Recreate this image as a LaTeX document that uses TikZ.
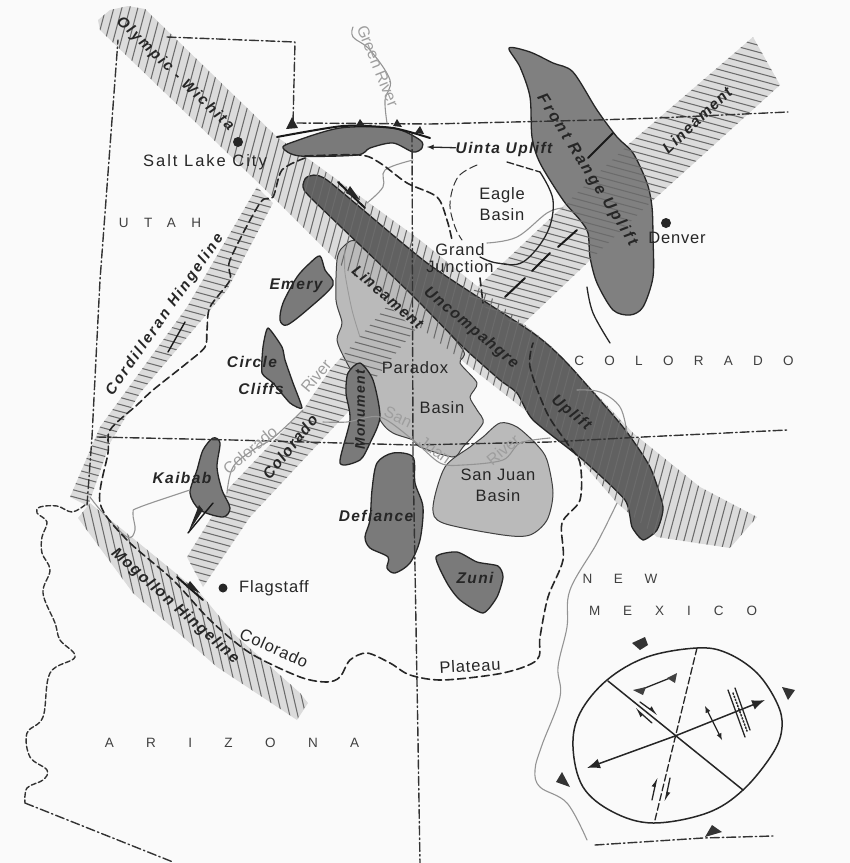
\documentclass[tikz,border=0pt]{standalone}
\usepackage{fontspec}
\setmainfont{Liberation Sans}
\newfontfamily\upfont[LetterSpace=9]{Liberation Sans}
\newfontfamily\upwide[LetterSpace=15]{Liberation Sans}
\newfontfamily\plfont[LetterSpace=5]{Liberation Sans}
\usetikzlibrary{arrows,arrows.meta}

\tikzset{
  bandfill/.style={fill=black!14},
  hatchline/.style={black!58,line width=1.05pt},
  upland/.style={fill=black!52,draw=black!85,line width=1.3pt},
  basin/.style={fill=black!27,draw=black!75,line width=1pt},
  border/.style={black!80,line width=1.4pt,dash pattern=on 9pt off 3pt on 1.5pt off 3pt},
  plateauline/.style={black!85,line width=1.6pt,dash pattern=on 8pt off 4pt},
  thinblack/.style={black!85,line width=1.3pt},
  fault/.style={black!90,line width=2pt},
  river/.style={black!42,line width=1.1pt},
  upname/.style={text=black!85,font=\upfont\bfseries\itshape\fontsize{15.5}{16}\selectfont,inner sep=0pt},
  upnamewide/.style={text=black!85,font=\upwide\bfseries\itshape\fontsize{15}{16}\selectfont,inner sep=0pt},
  placename/.style={text=black!85,font=\plfont\fontsize{16.5}{17}\selectfont,inner sep=0pt,align=center},
  rivername/.style={text=black!38,font=\fontsize{16}{17}\selectfont,inner sep=0pt},
  statename/.style={text=black!75,font=\fontsize{13.5}{14}\selectfont,inner sep=0pt},
  spoint/.style={fill=black!85},
  bigtip/.style={-{Latex[length=13pt,width=10pt]}},
  halftip/.style={-{Latex[left,length=8pt,width=7pt]}}
}

% shapes that get filled and then hatched
\newcommand{\olympicband}{(100,30) -- (98,20) -- (110,10) -- (128,6) -- (145,9) -- (277,137) -- (310,160) -- (420,240) -- (550,345) -- (633,433) -- (700,487) -- (757,517) -- (730,548) -- (657,537) -- (617,503) -- (563,440) -- (343,267) -- (273,197) -- cycle}
\newcommand{\coloradoleft}{(187,557) -- (230,487) -- (303,410) -- (330,370) -- (388,305) -- (415,330) -- (347,413) -- (250,517) -- (203,587) -- cycle}
\newcommand{\coloradoright}{(467,297) -- (630,143) -- (753,37) -- (780,85) -- (650,203) -- (520,327) -- cycle}
\newcommand{\cordband}{(257,187) -- (187,307) -- (100,427) -- (70,497) -- (88,506) -- (110,443) -- (140,393) -- (227,290) -- (273,203) -- cycle}
\newcommand{\mogband}{(78,518) -- (90,503) -- (107,517) -- (200,593) -- (233,633) -- (300,693) -- (308,703) -- (297,720) -- (217,667) -- (133,593) -- cycle}
\newcommand{\steephatch}{\foreach \i in {-100,-92,...,1100} \draw[hatchline] (\i,0) -- (\i-230,863);}
\newcommand{\backhatch}{\foreach \i in {-300,-292,...,800} \draw[hatchline] (\i,0) -- (\i+200,863);}
\newcommand{\flathatch}{\foreach \i in {-300,-293,...,800} \draw[hatchline] (0,\i) -- (850,\i+230);}

\begin{document}
\begin{tikzpicture}[line cap=round,line join=round,x=1pt,y=-1pt]
\useasboundingbox (0,0) rectangle (850,863);
\fill[black!2] (0,0) rectangle (850,863);

%bands
\fill[bandfill] \coloradoleft;
\fill[bandfill] \coloradoright;
\fill[bandfill] \cordband;
\fill[bandfill] \mogband;
\fill[bandfill] \olympicband;
\begin{scope}
  \clip \cordband;
  \flathatch
\end{scope}
\begin{scope}
  \clip \mogband;
  \backhatch
\end{scope}

%basins and uplifts under the hatching
\draw[basin] plot[smooth cycle,tension=.45] coordinates {(343,247) (337,260) (336,300) (342,323) (337,340) (347,363) (380,420) (393,433) (413,440) (420,447) (453,457) (463,447) (483,423) (477,410) (470,397) (477,383) (460,363) (463,350) (420,300) (360,243)};
\draw[basin] plot[smooth cycle,tension=.5] coordinates {(500,423) (483,437) (470,447) (445,467) (433,507) (443,523) (503,535) (530,535) (547,520) (553,493) (547,460) (537,445) (517,427)};
\draw[upland,fill=black!62] plot[smooth cycle,tension=.35] coordinates {(307,177) (327,180) (427,263) (533,333) (567,363) (623,427) (650,467) (663,507) (657,530) (643,540) (632,527) (625,500) (583,460) (533,420) (517,393) (500,380) (463,347) (410,293) (313,200) (303,187)};
\draw[upland,fill=black!50] plot[smooth cycle,tension=.5] coordinates {(509,48) (530,52) (553,63) (573,72) (597,110) (617,137) (633,153) (647,183) (652,207) (653,237) (653,277) (643,307) (630,315) (613,310) (597,283) (590,257) (588,233) (580,220) (563,200) (540,163) (532,137) (530,97) (520,67)};

%hatching on top
\begin{scope}
  \clip \coloradoleft;
  \flathatch
\end{scope}
\begin{scope}
  \clip \coloradoright;
  \flathatch
\end{scope}
\begin{scope}
  \clip \olympicband;
  \steephatch
\end{scope}
\draw[black!40,line width=0.9pt] plot[smooth] coordinates {(345,250) (345,273) (352,310) (360,337)};

%small uplifts
\draw[upland] plot[smooth cycle,tension=.5] coordinates {(283,148) (293,142) (340,128) (393,128) (420,140) (422,148) (413,152) (393,143) (370,148) (357,155) (300,156)};
\draw[upland] plot[smooth cycle,tension=.45] coordinates {(360,363) (348,373) (346,393) (350,420) (340,463) (360,460) (370,443) (380,417) (373,380)};
\draw[upland] plot[smooth cycle,tension=.5] coordinates {(320,256) (310,263) (297,277) (283,303) (280,320) (287,325) (307,310) (333,285) (325,270)};
\draw[upland] plot[smooth cycle,tension=.35] coordinates {(268,328) (263,347) (262,373) (273,383) (290,403) (302,408) (293,383) (285,360) (282,347)};
\draw[upland] plot[smooth cycle,tension=.5] coordinates {(213,438) (203,450) (197,470) (190,493) (200,510) (223,517) (230,508) (222,490) (217,467) (220,443)};
\draw[upland] plot[smooth cycle,tension=.5] coordinates {(393,453) (377,463) (372,490) (370,520) (365,537) (370,548) (388,557) (387,568) (395,573) (410,563) (420,540) (423,507) (415,483) (413,457)};
\draw[upland] plot[smooth cycle,tension=.4] coordinates {(436,557) (457,552) (477,562) (498,566) (503,577) (497,597) (483,613) (460,600) (447,583)};

%state lines
\draw[border] (87,505) -- (92,437) -- (100,280) -- (118,40);
\draw[border] (167,37) -- (295,42) -- (293,123);
\draw[border] (297,123) -- (430,124) -- (597,120) -- (657,118) -- (788,112);
\draw[border] (97,437) -- (233,440) -- (340,443) -- (413,445) -- (550,442) -- (643,437) -- (787,430);
\draw[border] (412,133) -- (413,453) -- (418,740) -- (420,863);
\draw[border] (25,803) -- (173,862);
\draw[border] (595,845) -- (703,838) -- (773,836);
\draw[border,dash pattern=on 5pt off 2.5pt] plot[smooth,tension=.6] coordinates {(85,505) (72,512) (57,506) (40,507) (37,513) (47,522) (42,537) (42,553) (50,570) (43,593) (55,623) (60,640) (75,657) (50,673) (43,717) (27,733) (30,757) (47,770) (43,780) (27,788) (25,803)};

%rivers
\draw[river] plot[smooth,tension=.6] coordinates {(353,27) (353,37) (370,50) (390,80) (385,100) (387,123)};
\draw[river] plot[smooth,tension=.6] coordinates {(413,160) (385,170) (383,187) (367,203)};
\draw[river] plot[smooth,tension=.6] coordinates {(487,243) (517,237) (547,213) (563,208)};
\draw[river] plot[smooth,tension=.6] coordinates {(227,493) (233,467) (253,450) (273,438) (303,410)};
\draw[river] plot[smooth,tension=.6] coordinates {(190,490) (140,507) (133,513) (135,530) (127,537) (103,513) (90,497)};
\draw[river] plot[smooth,tension=.5] coordinates {(323,422) (347,422) (380,417) (413,440) (440,463) (463,465) (503,460) (520,443) (550,438)};
\draw[river] plot[smooth,tension=.6] coordinates {(627,433) (620,407) (600,392) (577,390)};
\draw[river] plot[smooth,tension=.6] coordinates {(617,503) (597,543) (570,590) (567,627) (558,667) (560,697) (542,745) (535,770) (540,787) (567,803) (587,840)};

%plateau boundary
\draw[plateauline] plot[smooth,tension=.5] coordinates {(305,158) (282,170) (273,197) (260,203) (230,260) (230,280) (210,307) (207,330) (205,347) (187,363) (153,390) (137,405) (110,430) (108,453) (100,503) (127,540) (173,580) (210,620) (250,653) (300,677) (327,682) (340,677) (350,660) (367,653) (390,663) (410,675) (443,680) (503,673) (537,660) (540,637) (548,597) (563,560) (562,523) (580,500) (580,463) (567,443) (547,413) (530,367) (533,343)};
\draw[plateauline] plot[smooth,tension=.5] coordinates {(305,156) (360,155) (380,163) (407,183) (437,197) (447,220) (452,240)};
\draw[plateauline] (480,278) -- (483,303);
\draw[black!80,line width=1pt,dash pattern=on 8pt off 4pt] plot[smooth,tension=.6] coordinates {(477,165) (458,177) (450,203) (455,227) (462,240)};
\draw[thinblack,dash pattern=on 7pt off 3pt] (507,162) -- (540,172);
\draw[thinblack] plot[smooth,tension=.6] coordinates {(540,172) (553,200) (547,233) (523,262) (497,263) (480,257)};
\draw[thinblack] plot[smooth,tension=.6] coordinates {(587,287) (593,313) (610,343)};

%faults
\draw[fault] plot[smooth,tension=.4] coordinates {(277,137) (343,126) (393,128) (430,138)};
\fill[black!85] (292,117) -- (286,129) -- (298,128) -- cycle;
\fill[black!85] (360,119) -- (356,126) -- (365,126) -- cycle;
\fill[black!85] (397,119) -- (393,126) -- (402,127) -- cycle;
\fill[black!85] (420,126) -- (415,133) -- (424,134) -- cycle;
\draw[fault] (588,158) -- (613,133);
\draw[fault] (505,297) -- (525,278);
\draw[fault] (532,271) -- (550,253);
\draw[fault] (558,247) -- (577,230);
\draw[fault] (338,182) -- (365,208);
\fill[black!85] (350,186) -- (360,200) -- (346,193) -- cycle;
\draw[fault] (177,577) -- (203,600);
\fill[black!85] (190,581) -- (200,593) -- (186,587) -- cycle;
\draw[fault,line width=1.4pt] (168,352) -- (185,322);
\draw[fault,line width=1.4pt] (213,503) -- (188,533);
\fill[black!85] (203,510) -- (188,533) -- (199,505) -- cycle;

%inset ellipse
\draw[black!85,line width=1.5pt] plot[smooth cycle,tension=.6] coordinates {(697,648) (727,653) (757,673) (777,703) (782,727) (773,753) (743,790) (707,813) (653,823) (613,812) (583,787) (573,747) (580,713) (607,680) (647,657)};
\coordinate (ec) at (675,736);
\draw[thinblack,line width=1.5pt] (608,681) -- (743,790);
\draw[thinblack,dash pattern=on 7pt off 3pt] (697,648) -- (655,820);
\draw[bigtip,thinblack,line width=1.5pt] (ec) -- (587,768);
\draw[bigtip,thinblack,line width=1.5pt] (ec) -- (765,700);
\draw[thinblack] (640,690) -- (670,678);
\fill[black!75] (633,690) -- (646,687) -- (643,695) -- cycle;
\fill[black!75] (677,673) -- (667,678) -- (675,683) -- cycle;
\draw[halftip,thinblack] (640,702) -- (658,715);
\draw[halftip,thinblack] (652,723) -- (635,708);
\draw[latex-latex,thinblack] (705,706) -- (722,740);
\draw[thinblack] (728,690) -- (745,737);
\draw[thinblack] (735,688) -- (750,730);
\draw[thinblack,dotted,line width=1.6pt] (733,693) -- (747,731);
\draw[halftip,thinblack] (652,800) -- (657,777);
\draw[halftip,thinblack] (670,778) -- (665,802);
\fill[black!80] (632,643) -- (645,637) -- (648,645) -- (640,650) -- cycle;
\fill[black!80] (782,687) -- (795,690) -- (788,700) -- cycle;
\fill[black!80] (556,782) -- (562,772) -- (570,787) -- cycle;
\fill[black!80] (705,837) -- (712,825) -- (722,832) -- cycle;

%points
\fill[spoint] (238,142) circle (5);
\fill[spoint] (666,223) circle (5);
\fill[spoint] (223,588) circle (4.5);

%uplift and lineament names
\node[upnamewide,rotate=-44] (olympic) at (175,74) {Olympic - Wichita};
\node[upnamewide,rotate=55] (cordilleran) at (165,315) {Cordilleran Hingeline};
\node[upname,rotate=-41.6] (mogollon) at (175,606) {Mogollon Hingeline};
\node[upname,rotate=51] (coloradoL) at (290,447) {Colorado};
\node[upname,rotate=-41] (lineamentA) at (388,297) {Lineament};
\node[upname,rotate=43] (lineamentB) at (697,120) {Lineament};
\node[upname,rotate=-40] (uncompahgre) at (471,328) {Uncompahgre};
\node[upname,rotate=-40] (uplift) at (571,413) {Uplift};
\node[upnamewide,rotate=-58,font=\upwide\bfseries\itshape\fontsize{16}{17}\selectfont] (front) at (587,170) {Front Range Uplift};
\node[upname] (uinta) at (504,149) {Uinta Uplift};
\coordinate (uintaTip) at (427,147);
\draw[-latex,thinblack] (uinta) -- (uintaTip);
\node[upname] (emery) at (296,286) {Emery};
\node[upname] (circle) at (252,362) {Circle};
\node[upname] (cliffs) at (261,389) {Cliffs};
\node[upname] (kaibab) at (182,478) {Kaibab};
\node[upname] (defiance) at (376,516) {Defiance};
\node[upname] (zuni) at (475,578) {Zuni};
\node[upname,rotate=90,font=\upfont\bfseries\itshape\fontsize{14}{15}\selectfont] (monument) at (360,410) {Monument};

%place names
\node[placename] (slc) at (205,162) {\addfontfeature{LetterSpace=12}Salt Lake City};
\node[placename] (eagle) at (502,204) {Eagle\\[4pt]Basin};
\node[placename] (grand) at (460,258) {Grand\\Junction};
\node[placename] (denver) at (677,238) {Denver};
\node[placename] (paradox) at (415,368) {Paradox};
\node[placename] (pbasin) at (442,408) {Basin};
\node[placename] (sjbasin) at (498,485) {San Juan\\[4pt]Basin};
\node[placename] (flagstaff) at (274,588) {Flagstaff};
\node[placename,rotate=-24] (colplat) at (274,648) {Colorado};
\node[placename,rotate=3] (plateau) at (470,666) {Plateau};

%river names
\node[rivername,rotate=-68] (green) at (378,66) {Green River};
\node[rivername,rotate=40] (corivA) at (250,450) {Colorado};
\node[rivername,rotate=50] (corivB) at (316,376) {River};
\node[rivername,rotate=-25] (sjA) at (398,417) {San};
\node[rivername,rotate=-35] (sjB) at (435,450) {Juan};
\node[rivername,rotate=40] (sjC) at (503,450) {River};

%states
\node[statename] (utah) at (160,223) {\addfontfeature{LetterSpace=115}UTAH};
\node[statename] (colo) at (684,361) {\addfontfeature{LetterSpace=150}COLORADO};
\node[statename] (newst) at (620,579) {\addfontfeature{LetterSpace=160}NEW};
\node[statename] (mex) at (673,611) {\addfontfeature{LetterSpace=170}MEXICO};
\node[statename] (az) at (232,743) {\addfontfeature{LetterSpace=240}ARIZONA};
\end{tikzpicture}
\end{document}
